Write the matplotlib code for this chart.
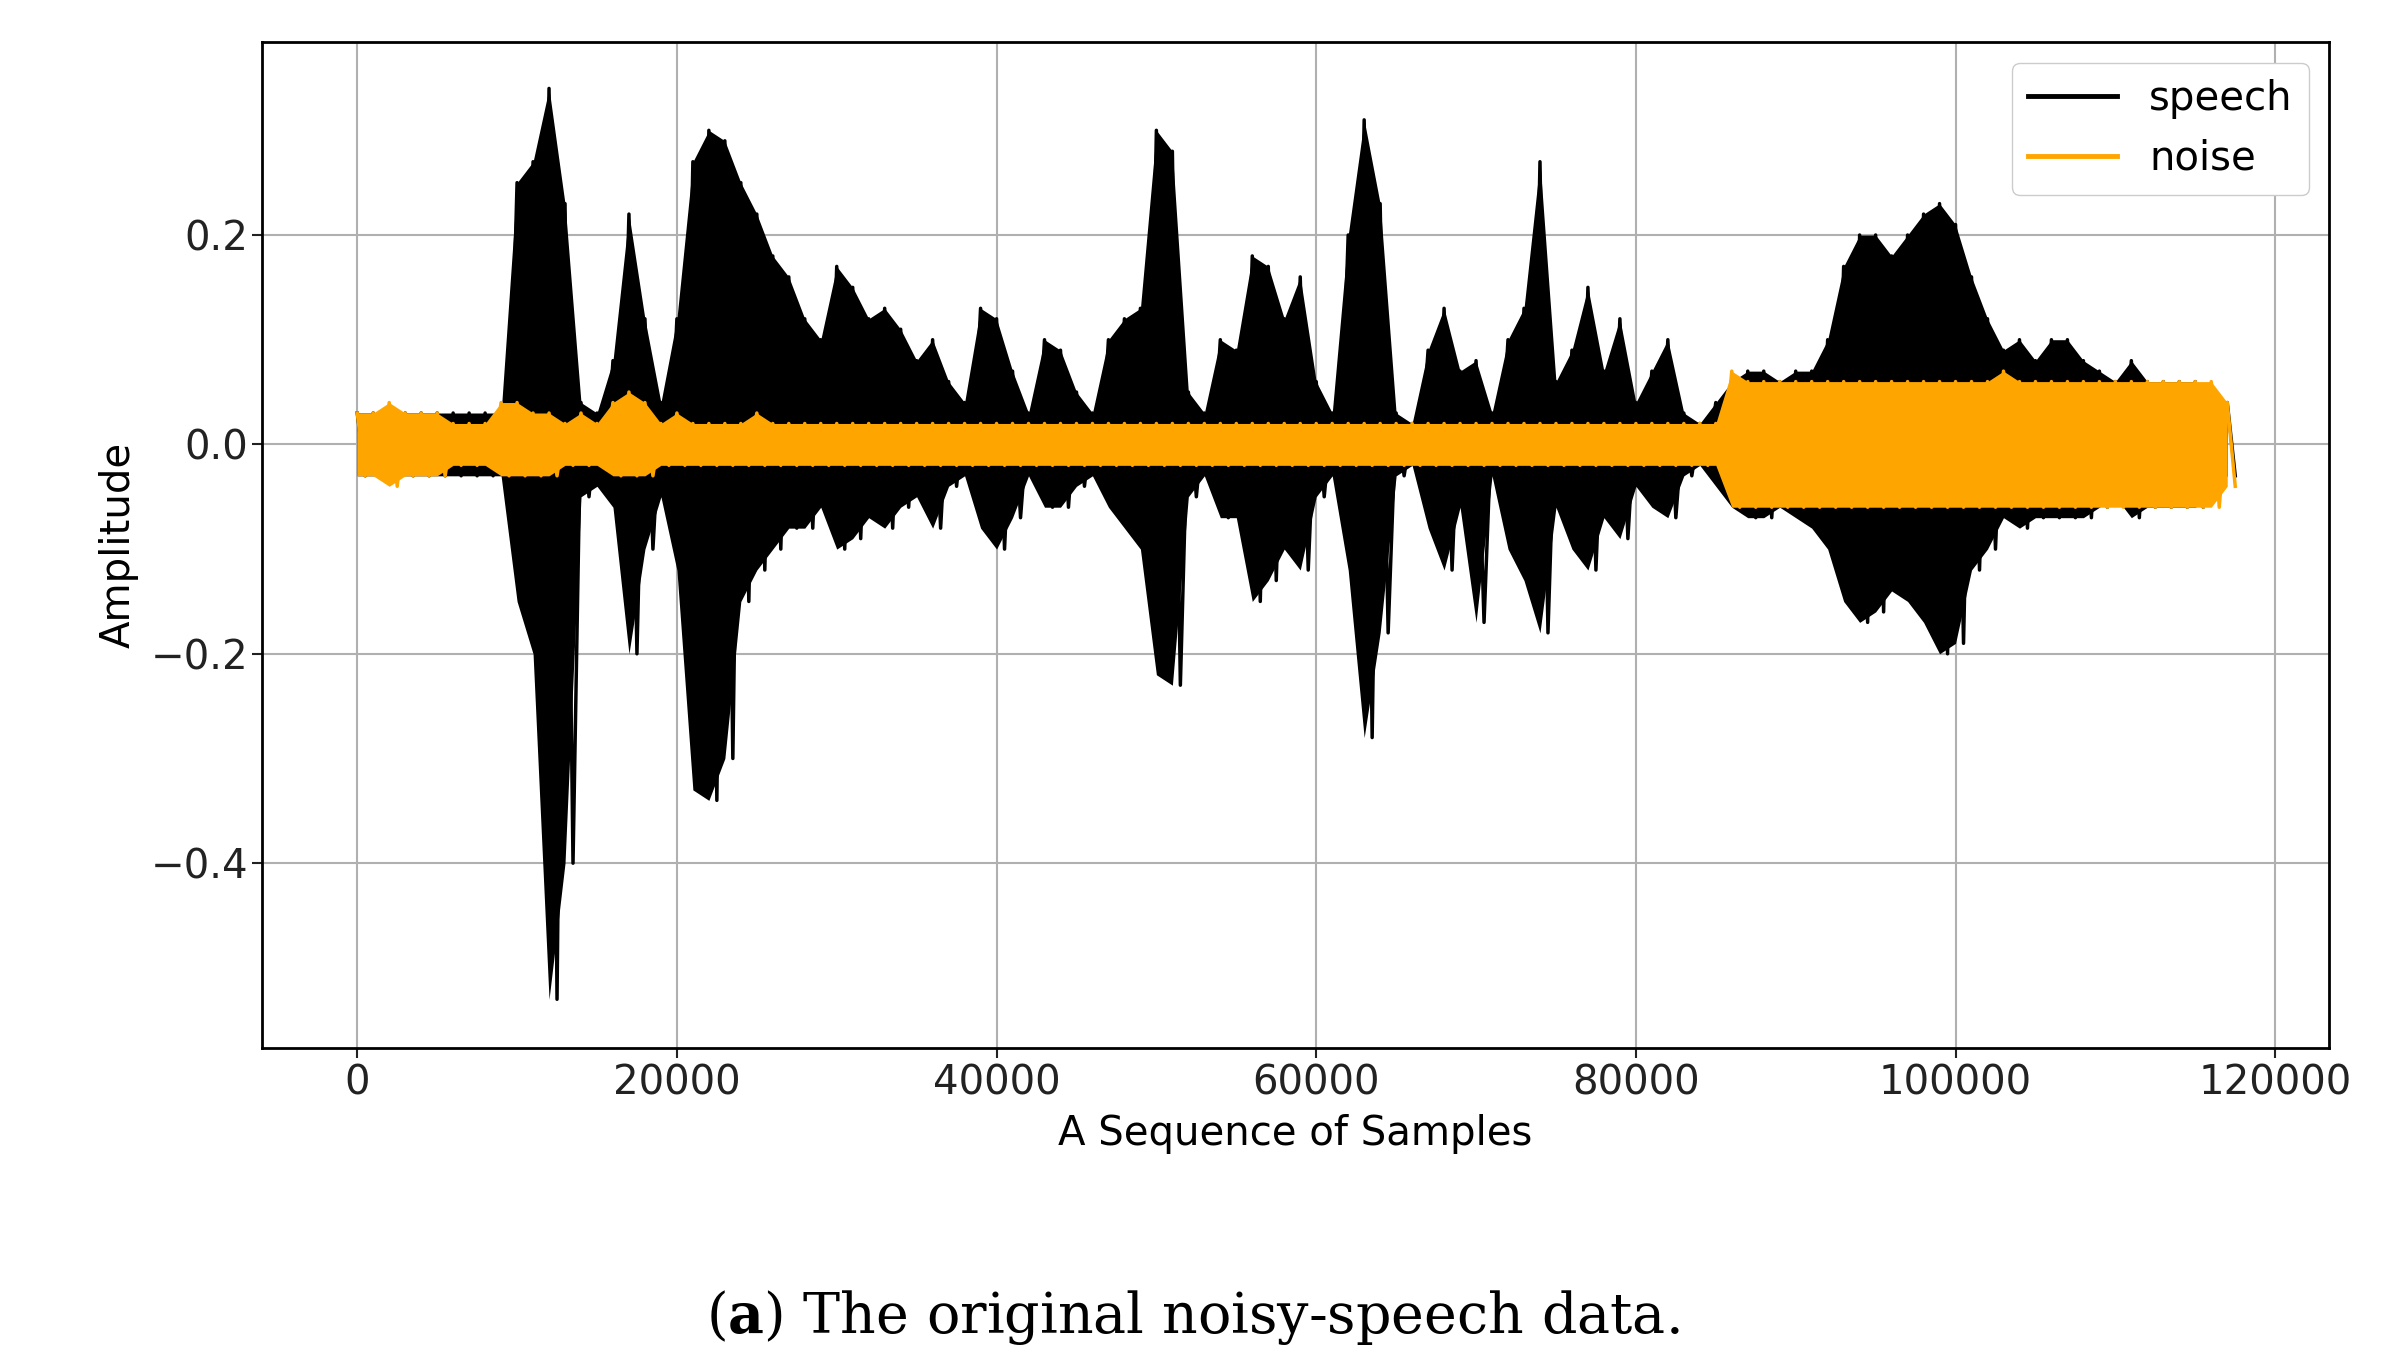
import matplotlib
matplotlib.use("Agg")
import matplotlib.pyplot as plt
import numpy as np

step = 1000
speech_upper = [0.03,0.03,0.03,0.03,0.03,0.03,0.03,0.03,0.03,0.03,
 0.25,0.27,0.34,0.23,0.04,0.03,0.08,0.22,0.12,0.04,
 0.12,0.27,0.30,0.29,0.25,0.22,0.18,0.16,0.12,0.10,
 0.17,0.15,0.12,0.13,0.11,0.08,0.10,0.06,0.04,0.13,
 0.12,0.07,0.03,0.10,0.09,0.05,0.03,0.10,0.12,0.13,
 0.30,0.28,0.05,0.03,0.10,0.09,0.18,0.17,0.12,0.16,
 0.06,0.03,0.20,0.31,0.23,0.03,0.02,0.09,0.13,0.07,
 0.08,0.03,0.10,0.13,0.27,0.06,0.09,0.15,0.07,0.12,
 0.04,0.07,0.10,0.03,0.02,0.04,0.06,0.07,0.07,0.06,
 0.07,0.07,0.10,0.17,0.20,0.20,0.18,0.20,0.22,0.23,
 0.21,0.16,0.12,0.09,0.10,0.08,0.10,0.10,0.08,0.07,
 0.06,0.08,0.06,0.06,0.06,0.06,0.05,0.04]
speech_lower = [-0.03,-0.03,-0.03,-0.03,-0.03,-0.03,-0.03,-0.03,-0.03,-0.03,
 -0.15,-0.20,-0.53,-0.40,-0.05,-0.04,-0.06,-0.20,-0.10,-0.05,
 -0.12,-0.33,-0.34,-0.30,-0.15,-0.12,-0.10,-0.08,-0.08,-0.06,
 -0.10,-0.09,-0.07,-0.08,-0.06,-0.05,-0.08,-0.04,-0.03,-0.08,
 -0.10,-0.07,-0.03,-0.06,-0.06,-0.04,-0.03,-0.06,-0.08,-0.10,
 -0.22,-0.23,-0.05,-0.03,-0.07,-0.07,-0.15,-0.13,-0.10,-0.12,
 -0.05,-0.03,-0.12,-0.28,-0.18,-0.03,-0.02,-0.08,-0.12,-0.06,
 -0.17,-0.03,-0.10,-0.13,-0.18,-0.06,-0.10,-0.12,-0.07,-0.09,
 -0.04,-0.06,-0.07,-0.03,-0.02,-0.04,-0.06,-0.07,-0.07,-0.06,
 -0.07,-0.08,-0.10,-0.15,-0.17,-0.16,-0.14,-0.15,-0.17,-0.20,
 -0.19,-0.12,-0.10,-0.07,-0.08,-0.07,-0.07,-0.07,-0.07,-0.06,
 -0.05,-0.07,-0.06,-0.06,-0.06,-0.06,-0.05,-0.03]
noise_upper = [0.03,0.03,0.04,0.03,0.03,0.03,0.02,0.02,0.02,0.04,
 0.04,0.03,0.03,0.02,0.03,0.02,0.04,0.05,0.04,0.02,
 0.03,0.02,0.02,0.02,0.02,0.03,0.02,0.02,0.02,0.02,
 0.02,0.02,0.02,0.02,0.02,0.02,0.02,0.02,0.02,0.02,
 0.02,0.02,0.02,0.02,0.02,0.02,0.02,0.02,0.02,0.02,
 0.02,0.02,0.02,0.02,0.02,0.02,0.02,0.02,0.02,0.02,
 0.02,0.02,0.02,0.02,0.02,0.02,0.02,0.02,0.02,0.02,
 0.02,0.02,0.02,0.02,0.02,0.02,0.02,0.02,0.02,0.02,
 0.02,0.02,0.02,0.02,0.02,0.02,0.07,0.06,0.06,0.06,
 0.06,0.06,0.06,0.06,0.06,0.06,0.06,0.06,0.06,0.06,
 0.06,0.06,0.06,0.07,0.06,0.06,0.06,0.06,0.06,0.06,
 0.06,0.06,0.06,0.06,0.06,0.06,0.06,0.04]
noise_lower = [-0.03,-0.03,-0.04,-0.03,-0.03,-0.03,-0.02,-0.02,-0.02,-0.03,
 -0.03,-0.03,-0.03,-0.02,-0.02,-0.02,-0.03,-0.03,-0.03,-0.02,
 -0.02,-0.02,-0.02,-0.02,-0.02,-0.02,-0.02,-0.02,-0.02,-0.02,
 -0.02,-0.02,-0.02,-0.02,-0.02,-0.02,-0.02,-0.02,-0.02,-0.02,
 -0.02,-0.02,-0.02,-0.02,-0.02,-0.02,-0.02,-0.02,-0.02,-0.02,
 -0.02,-0.02,-0.02,-0.02,-0.02,-0.02,-0.02,-0.02,-0.02,-0.02,
 -0.02,-0.02,-0.02,-0.02,-0.02,-0.02,-0.02,-0.02,-0.02,-0.02,
 -0.02,-0.02,-0.02,-0.02,-0.02,-0.02,-0.02,-0.02,-0.02,-0.02,
 -0.02,-0.02,-0.02,-0.02,-0.02,-0.02,-0.06,-0.06,-0.06,-0.06,
 -0.06,-0.06,-0.06,-0.06,-0.06,-0.06,-0.06,-0.06,-0.06,-0.06,
 -0.06,-0.06,-0.06,-0.06,-0.06,-0.06,-0.06,-0.06,-0.06,-0.06,
 -0.06,-0.06,-0.06,-0.06,-0.06,-0.06,-0.06,-0.04]

def zigzag(up, lo):
    n = len(up)
    x = np.empty(2 * n); y = np.empty(2 * n)
    x[0::2] = np.arange(n) * step
    x[1::2] = np.arange(n) * step + step / 2
    y[0::2] = up
    y[1::2] = lo
    return x, y

fig = plt.figure(figsize=(23.86, 13.67), dpi=100)
ax = fig.add_axes([0.110, 0.233, 0.866, 0.736])
xs = np.arange(len(speech_upper)) * step

ax.fill_between(xs, speech_lower, speech_upper, color="black", lw=0, zorder=2)
zx, zy = zigzag(speech_upper, speech_lower)
ax.plot(zx, zy, color="black", lw=2.5, label="speech", zorder=2.1)
ax.fill_between(xs, noise_lower, noise_upper, color="orange", lw=0, zorder=3)
nx, ny = zigzag(noise_upper, noise_lower)
ax.plot(nx, ny, color="orange", lw=2.5, label="noise", zorder=3.1)

ax.set_xlim(-5930, 123350)
ax.set_ylim(-0.577, 0.384)
ax.set_xticks([0, 20000, 40000, 60000, 80000, 100000, 120000])
ax.set_yticks([-0.4, -0.2, 0.0, 0.2])
ax.grid(True, color="#b0b0b0", lw=1.5)
ax.set_axisbelow(True)
ax.tick_params(labelsize=29, width=1.5, length=7, colors="#222222")
for s in ax.spines.values():
    s.set_linewidth(2)
ax.set_xlabel("A Sequence of Samples", fontsize=29, labelpad=8)
ax.set_ylabel("Amplitude", fontsize=29, labelpad=8)
leg = ax.legend(loc="upper right", fontsize=29, handlelength=2.2, framealpha=1)
for l in leg.get_lines():
    l.set_linewidth(3.5)

plt.rcParams["mathtext.fontset"] = "dejavuserif"
fig.text(0.5, 0.036, r"($\mathbf{a}$) The original noisy-speech data.",
         ha="center", va="center", fontsize=40, family="DejaVu Serif")
fig.savefig("out.png", dpi=100)
